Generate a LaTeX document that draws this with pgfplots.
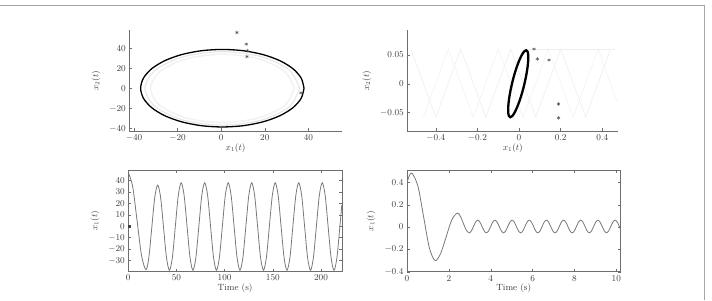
\documentclass[border=0pt]{standalone}
\usepackage{pgfplots}
\pgfplotsset{compat=1.18}
\definecolor{axgray}{RGB}{110,110,110}
\definecolor{txtgray}{RGB}{60,60,60}
\definecolor{curvegray}{RGB}{120,120,120}
\begin{document}
\begin{tikzpicture}[x=1bp,y=1bp]
\useasboundingbox (0,0) rectangle (712,300);
\draw[black!35, line width=0.8bp] (0,295) -- (704.5,295) -- (704.5,0);
\pgfplotsset{
  myax/.style={scale only axis, height=101bp, anchor=south west,
    axis line style={axgray, line width=0.5bp},
    tick style={axgray, line width=0.4bp},
    major tick length=2.5bp, tick align=inside,
    ticklabel style={font=\fontsize{9}{10}\selectfont, text=txtgray},
    label style={font=\fontsize{9}{10}\selectfont, text=txtgray},
    xlabel style={yshift=4bp},
    ylabel style={yshift=2bp},
    clip=true},
  openax/.style={myax, axis x line*=bottom, axis y line*=left},
}
% ---------------- top left ----------------
\begin{axis}[openax, at={(129.3bp,169bp)}, width=212.4bp,
  xmin=-42.2, xmax=55.3, ymin=-42.3, ymax=58,
  xtick={-40,-20,0,20,40}, ytick={-40,-20,0,20,40},
  xlabel={$x_1(t)$}, ylabel={$x_2(t)$}]
\addplot[black!5, line width=1.5bp, smooth] coordinates {
(33.5,0) (29.08,17) (17,29.44) (0.5,34) (-16,29.44) (-28.08,17) (-32.5,0)
(-28.08,-17) (-16,-29.44) (0.5,-34) (17,-29.44) (29.08,-17) (33.5,0)};
\addplot[black!9, line width=1.2bp, smooth] coordinates {
(36,0) (31.24,18.25) (18.25,31.6) (0.5,36.5) (-17.25,31.6) (-30.24,18.25) (-35,0)
(-30.24,-18.25) (-17.25,-31.6) (0.5,-36.5) (18.25,-31.6) (31.24,-18.25) (36,0)};
\addplot[black, line width=1.3bp, smooth] coordinates {
(38.0,0.2) (36.72,10.16) (32.98,19.45) (27.02,27.42) (19.25,33.54) (10.21,37.39)
(0.5,38.7) (-9.21,37.39) (-18.25,33.54) (-26.02,27.42) (-31.98,19.45) (-35.72,10.16)
(-37.0,0.2) (-35.72,-9.76) (-31.98,-19.05) (-26.02,-27.02) (-18.25,-33.14) (-9.21,-36.99)
(0.5,-38.3) (10.21,-36.99) (19.25,-33.14) (27.02,-27.02) (32.98,-19.05) (36.72,-9.76)
(38.0,0.2)};
\addplot[only marks, mark=asterisk, mark size=1.8bp, black!70] coordinates {
(7.2,55.5) (11.5,43.9) (12,37.5) (11.8,31.6) (36.6,-4.4)};
\end{axis}
% ---------------- top right ----------------
\begin{axis}[openax, at={(407.3bp,169bp)}, width=211bp,
  xmin=-0.537, xmax=0.477, ymin=-0.0818, ymax=0.093,
  xtick={-0.4,-0.2,0,0.2,0.4}, ytick={-0.05,0,0.05},
  scaled y ticks=false, scaled x ticks=false,
  yticklabel style={/pgf/number format/fixed, /pgf/number format/precision=2},
  xlabel={$x_1(t)$}, ylabel={$x_2(t)$}]
\addplot[black!7, line width=0.6bp] coordinates {
(-0.52,0.06) (-0.40,-0.058) (-0.28,0.06) (-0.16,-0.058) (-0.04,0.06) (0.08,-0.058)
(0.20,0.06) (0.32,-0.058) (0.44,0.06)};
\addplot[black!5, line width=0.6bp] coordinates {
(-0.46,-0.058) (-0.34,0.06) (-0.22,-0.058) (-0.10,0.06) (0.02,-0.058) (0.14,0.06)
(0.26,-0.058) (0.38,0.06) (0.47,-0.03)};
\addplot[black!6, line width=0.6bp] coordinates {(0.05,0.06) (0.46,0.06)};
\addplot[black, line width=2.3bp, smooth] coordinates {
(0.026,0) (0.0348,0.0150) (0.0410,0.029) (0.0441,0.0410) (0.0439,0.0502) (0.0405,0.0560)
(0.034,0.058) (0.0249,0.0560) (0.0139,0.0502) (0.0017,0.0410) (-0.0110,0.029) (-0.0232,0.0150)
(-0.034,0) (-0.0428,-0.0150) (-0.0490,-0.029) (-0.0521,-0.0410) (-0.0519,-0.0502) (-0.0485,-0.0560)
(-0.042,-0.058) (-0.0329,-0.0560) (-0.0219,-0.0502) (-0.0097,-0.0410) (0.0030,-0.029) (0.0152,-0.0150)
(0.026,0)};
\addplot[only marks, mark=asterisk, mark size=1.8bp, black!70] coordinates {
(0.072,0.06) (0.088,0.043) (0.144,0.041) (0.19,-0.035) (0.19,-0.059)};
\end{axis}
% ---------------- bottom left ----------------
\begin{axis}[myax, at={(128.3bp,28.5bp)}, width=213.5bp,
  xmin=0, xmax=221.6, ymin=-39.6, ymax=48.75,
  xtick={0,50,100,150,200}, ytick={-30,-20,-10,0,10,20,30,40},
  xlabel={Time (s)}, ylabel={$x_1(t)$}]
\addplot[curvegray, line width=0.8bp, smooth] coordinates {
(0,47) (4.575,34.55) (9.15,4.5) (13.725,-25.55) (18.3,-38)
(21.35,-27.16) (24.4,-1) (27.45,25.16) (30.5,36)
(33.55,25.09) (36.6,-1.25) (39.65,-27.59) (42.7,-38.5)
(45.75,-27.3) (48.8,-0.25) (51.85,26.8) (54.9,38) (57.95,26.8) (61.0,-0.25) (64.05,-27.3)
(67.1,-38.5) (70.15,-27.3) (73.2,-0.25) (76.25,26.8) (79.3,38) (82.35,26.8) (85.4,-0.25) (88.45,-27.3)
(91.5,-38.5) (94.55,-27.3) (97.6,-0.25) (100.65,26.8) (103.7,38) (106.75,26.8) (109.8,-0.25) (112.85,-27.3)
(115.9,-38.5) (118.95,-27.3) (122.0,-0.25) (125.05,26.8) (128.1,38) (131.15,26.8) (134.2,-0.25) (137.25,-27.3)
(140.3,-38.5) (143.35,-27.3) (146.4,-0.25) (149.45,26.8) (152.5,38) (155.55,26.8) (158.6,-0.25) (161.65,-27.3)
(164.7,-38.5) (167.75,-27.3) (170.8,-0.25) (173.85,26.8) (176.9,38) (179.95,26.8) (183.0,-0.25) (186.05,-27.3)
(189.1,-38.5) (192.15,-27.3) (195.2,-0.25) (198.25,26.8) (201.3,38) (204.35,26.8) (207.4,-0.25) (210.45,-27.3)
(213.5,-38.5) (216.55,-27.3) (219.6,-0.25) (221.6,18.6)};
\addplot[only marks, mark=square*, mark size=1.2bp, black!75] coordinates {(0.8,0)};
\end{axis}
% ---------------- bottom right ----------------
\begin{axis}[myax, at={(407bp,28.3bp)}, width=213.5bp,
  xmin=0, xmax=10.2, ymin=-0.4, ymax=0.505,
  xtick={0,2,4,6,8,10}, ytick={-0.4,-0.2,0,0.2,0.4},
  xlabel={Time (s)}, ylabel={$x_1(t)$}]
\addplot[curvegray, line width=0.8bp, smooth] coordinates {
(0,0.40) (0.12,0.465) (0.25,0.48) (0.5225,0.366) (0.795,0.09) (1.0675,-0.186) (1.34,-0.30)
(1.605,-0.238) (1.87,-0.0875) (2.135,0.063) (2.40,0.125)
(2.5425,0.099) (2.685,0.0365) (2.8275,-0.026) (2.97,-0.052)
(3.0725,-0.035) (3.175,0.005) (3.2775,0.045) (3.38,0.062) (3.4825,0.045) (3.585,0.005) (3.6875,-0.035)
(3.79,-0.052) (3.8925,-0.035) (3.995,0.005) (4.0975,0.045) (4.20,0.062) (4.3025,0.045) (4.405,0.005) (4.5075,-0.035)
(4.61,-0.052) (4.7125,-0.035) (4.815,0.005) (4.9175,0.045) (5.02,0.062) (5.1225,0.045) (5.225,0.005) (5.3275,-0.035)
(5.43,-0.052) (5.5325,-0.035) (5.635,0.005) (5.7375,0.045) (5.84,0.062) (5.9425,0.045) (6.045,0.005) (6.1475,-0.035)
(6.25,-0.052) (6.3525,-0.035) (6.455,0.005) (6.5575,0.045) (6.66,0.062) (6.7625,0.045) (6.865,0.005) (6.9675,-0.035)
(7.07,-0.052) (7.1725,-0.035) (7.275,0.005) (7.3775,0.045) (7.48,0.062) (7.5825,0.045) (7.685,0.005) (7.7875,-0.035)
(7.89,-0.052) (7.9925,-0.035) (8.095,0.005) (8.1975,0.045) (8.30,0.062) (8.4025,0.045) (8.505,0.005) (8.6075,-0.035)
(8.71,-0.052) (8.8125,-0.035) (8.915,0.005) (9.0175,0.045) (9.12,0.062) (9.2225,0.045) (9.325,0.005) (9.4275,-0.035)
(9.53,-0.052) (9.6325,-0.035) (9.735,0.005) (9.8375,0.045) (9.94,0.062) (10.0425,0.045) (10.145,0.005) (10.2,-0.018)};
\end{axis}
\end{tikzpicture}
\end{document}
